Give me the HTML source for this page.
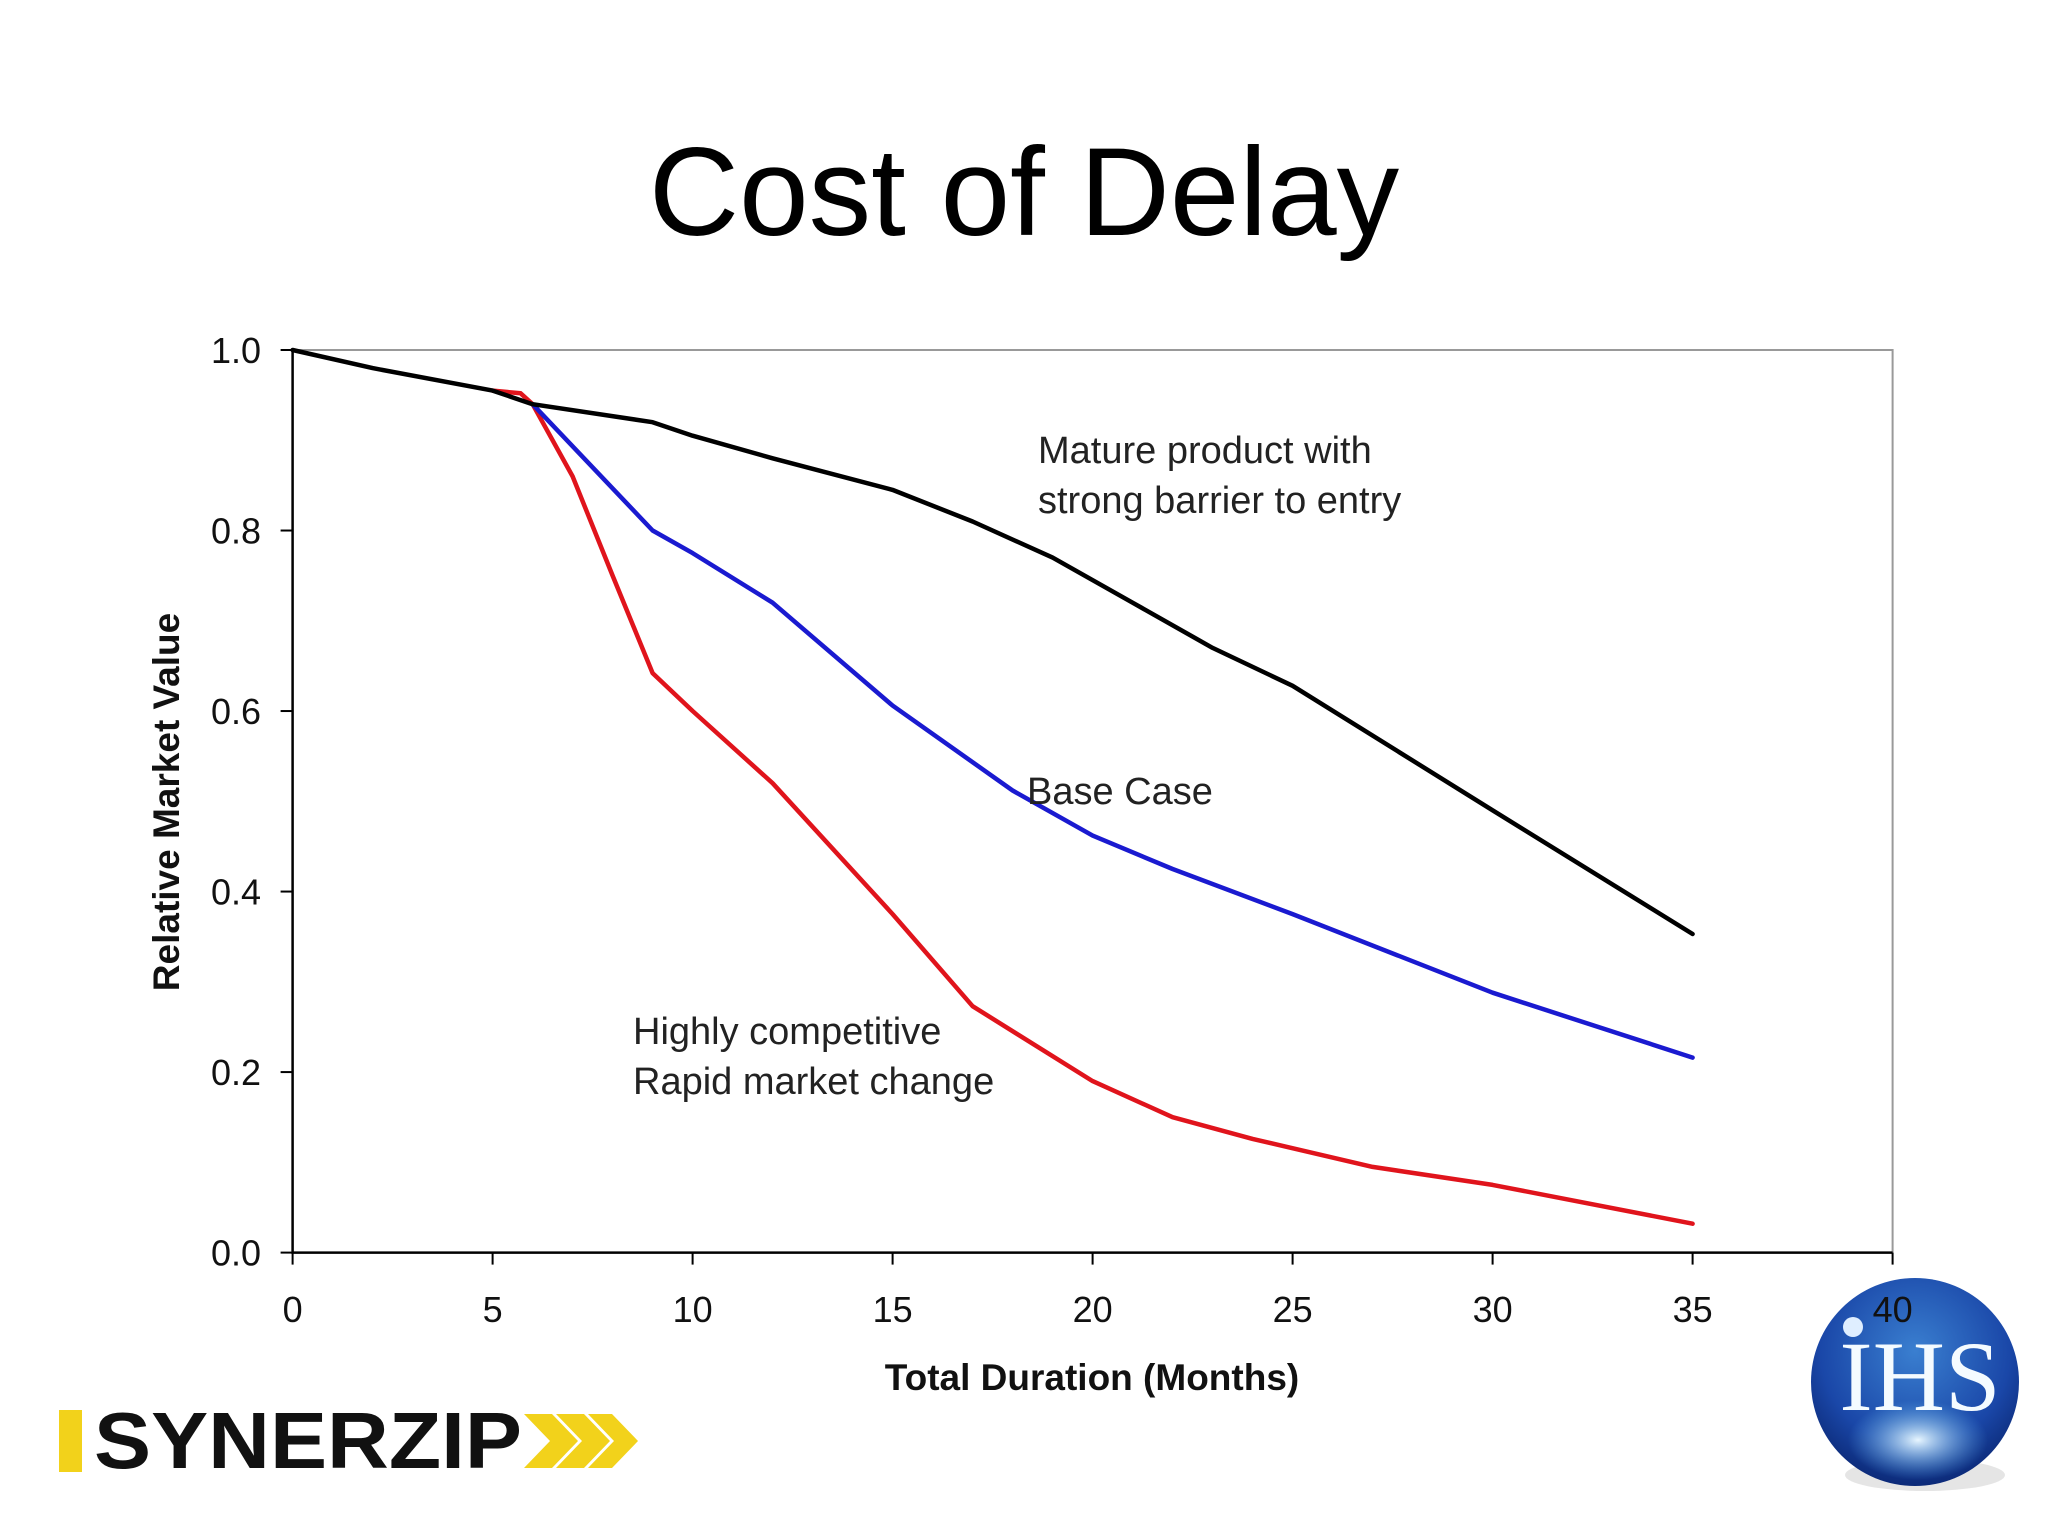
<!DOCTYPE html>
<html><head><meta charset="utf-8"><style>
body{margin:0;background:#fff;}
svg{display:block;font-family:"Liberation Sans",sans-serif;}
</style></head><body>
<svg width="2048" height="1536" viewBox="0 0 2048 1536">
<defs>
<radialGradient id="gl" cx="0.5" cy="0.35" r="0.65">
<stop offset="0" stop-color="#3a7fd0"/><stop offset="0.7" stop-color="#1a47a8"/><stop offset="1" stop-color="#0c2a78"/>
</radialGradient>
<radialGradient id="gl2" cx="0.5" cy="0.5" r="0.5">
<stop offset="0" stop-color="#e8f6ff"/><stop offset="1" stop-color="#5fb2ec" stop-opacity="0"/>
</radialGradient>
</defs>
<text x="1024" y="235" font-size="125" text-anchor="middle" fill="#000">Cost of Delay</text>
<g>
<rect x="59" y="1410" width="23" height="62" fill="#f2d21b"/>
<text x="94" y="1468" font-size="80" font-weight="bold" fill="#111" textLength="428" lengthAdjust="spacingAndGlyphs">SYNERZIP</text>
<polygon points="524,1414 552,1414 578,1441 552,1468 524,1468 550,1441" fill="#f2d21b"/>
<polygon points="556,1414 584,1414 610,1441 584,1468 556,1468 582,1441" fill="#f2d21b"/>
<polygon points="588,1414 612,1414 638,1441 612,1468 588,1468 614,1441" fill="#f2d21b"/>
</g>
<g>
<ellipse cx="1925" cy="1475" rx="80" ry="16" fill="#ccc" opacity="0.5"/>
<circle cx="1915" cy="1382" r="104" fill="url(#gl)"/>
<ellipse cx="1918" cy="1440" rx="70" ry="40" fill="url(#gl2)"/>
<circle cx="1853" cy="1327" r="10" fill="#dfeeff"/>
<text x="1920" y="1410" font-size="100" fill="#f4fbff" text-anchor="middle" font-family="Liberation Serif,serif">IHS</text>
</g>
<g id="plot"></g>
</svg>
<script>
const xTicks=[0,5,10,15,20,25,30,35,40];
const yTicks=[0.0,0.2,0.4,0.6,0.8,1.0];
const yTickLabels=["0.0","0.2","0.4","0.6","0.8","1.0"];
const blackX=[0,2,5,6,9,10,12,15,17,19,21,23,25,30,35];
const blackY=[1.0,0.98,0.955,0.94,0.92,0.905,0.88,0.845,0.81,0.77,0.72,0.67,0.628,0.49,0.353];
const blueX=[6,9,10,12,15,18,20,22,25,30,35];
const blueY=[0.94,0.80,0.775,0.72,0.606,0.512,0.462,0.425,0.375,0.288,0.216];
const redX=[5,5.7,6,7,8,9,10,12,15,17,20,22,24,27,30,35];
const redY=[0.955,0.952,0.94,0.86,0.75,0.642,0.60,0.52,0.375,0.273,0.19,0.15,0.126,0.095,0.075,0.032];
const NS="http://www.w3.org/2000/svg";
const g=document.getElementById('plot');
const X0=292.6,X1=1892.6,Y0=1252.6,Y1=350;
const sx=v=>X0+(X1-X0)*v/40, sy=v=>Y0-(Y0-Y1)*v;
function mk(t,a){const e=document.createElementNS(NS,t);for(const k in a)e.setAttribute(k,a[k]);g.appendChild(e);return e;}
let e;
e=mk('path',{d:`M${X0},${Y1}H${X1}V${Y0}`,fill:'none',stroke:'#999','stroke-width':2});


e=mk('path',{d:`M${X0},${Y1}V${Y0}H${X1}`,fill:'none',stroke:'#000','stroke-width':2.5});


yTicks.forEach((v,i)=>{
 e=mk('line',{x1:X0-12,x2:X0,y1:sy(v),y2:sy(v),stroke:'#000','stroke-width':2});
 
 
 e=mk('text',{x:261,y:sy(v)+13,'font-size':36,'text-anchor':'end',fill:'#111'});
 e.textContent=yTickLabels[i];
 
 
});
xTicks.forEach(v=>{
 e=mk('line',{x1:sx(v),x2:sx(v),y1:Y0,y2:Y0+12,stroke:'#000','stroke-width':2});
 
 
 e=mk('text',{x:sx(v),y:1322,'font-size':36,'text-anchor':'middle',fill:'#111'});
 e.textContent=String(v);
 
 
});
function line(xs,ys,c,n){
 const d=xs.map((x,i)=>(i?'L':'M')+sx(x).toFixed(1)+','+sy(ys[i]).toFixed(1)).join('');
 const p=mk('path',{d,fill:'none',stroke:c,'stroke-width':4.5,'stroke-linejoin':'round','stroke-linecap':'round'});
 
 
}
line(redX,redY,'#e0141c','line-highly-competitive');
line(blueX,blueY,'#1a1ad0','line-base-case');
line(blackX,blackY,'#000','line-mature-product');
function lab(x,y,t,n,extra){e=mk('text',Object.assign({x,y,'font-size':38,fill:'#222'},extra||{}));e.textContent=t;
 
 }
lab(1038,463,'Mature product with','label-mature-1');
lab(1038,513,'strong barrier to entry','label-mature-2');
lab(1027,804,'Base Case','label-base-case');
lab(633,1044,'Highly competitive','label-competitive-1');
lab(633,1094,'Rapid market change','label-competitive-2');
lab(1092,1390,'Total Duration (Months)','x-axis-title',{'font-weight':'bold','text-anchor':'middle','font-size':37,fill:'#111'});
e=mk('text',{x:0,y:0,'font-size':37,'font-weight':'bold','text-anchor':'middle',fill:'#111',transform:'translate(179,802) rotate(-90)'});
e.textContent='Relative Market Value';


</script>
</body></html>
